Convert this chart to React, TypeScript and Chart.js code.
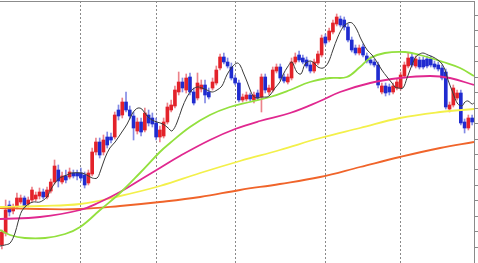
import React, { useEffect, useRef } from "react";
import { Chart, registerables } from "chart.js";

Chart.register(...registerables);

// Candles (bar index 0..125)
const opens = [100.18,100.30,100.58,100.52,100.56,100.61,100.65,100.59,100.63,100.64,100.67,100.71,100.66,100.72,100.81,100.93,100.81,100.87,100.86,100.90,100.90,100.90,100.88,100.80,100.89,101.11,101.21,101.11,101.26,101.26,101.26,101.53,101.48,101.61,101.53,101.47,101.32,101.41,101.33,101.48,101.45,101.40,101.26,101.27,101.41,101.53,101.57,101.71,101.81,101.73,101.86,101.71,101.65,101.74,101.78,101.71,101.75,101.80,101.95,102.06,102.01,101.96,101.85,101.80,101.63,101.64,101.68,101.63,101.70,101.66,101.86,101.71,101.73,101.92,101.96,101.86,101.81,101.85,102.01,102.08,102.05,102.03,101.98,101.92,102.00,102.08,102.26,102.23,102.31,102.39,102.44,102.43,102.36,102.23,102.15,102.10,102.16,102.07,102.03,102.01,101.98,101.71,101.77,101.76,101.71,101.75,101.75,101.87,101.97,102.06,101.97,102.03,102.03,102.04,102.04,101.99,101.98,101.95,101.91,101.54,101.58,101.65,101.70,101.41,101.35,101.45];
const highs = [100.33,100.63,100.62,100.59,100.70,100.68,100.67,100.66,100.76,100.71,100.75,100.74,100.76,100.84,101.03,100.98,100.91,100.93,100.95,100.93,100.93,100.95,100.91,100.93,101.15,101.25,101.25,101.28,101.31,101.30,101.51,101.58,101.65,101.71,101.57,101.51,101.45,101.45,101.55,101.53,101.50,101.45,101.37,101.45,101.60,101.63,101.77,101.91,101.85,101.89,101.90,101.75,101.90,101.83,101.83,101.75,101.85,101.97,102.09,102.10,102.05,102.00,101.88,101.83,101.69,101.71,101.70,101.71,101.73,101.89,101.89,101.78,101.96,101.99,101.99,101.89,101.89,102.05,102.10,102.12,102.08,102.06,102.01,102.04,102.12,102.28,102.29,102.35,102.43,102.49,102.47,102.46,102.39,102.26,102.18,102.18,102.19,102.10,102.06,102.04,102.01,101.80,101.80,101.79,101.80,101.84,101.91,102.01,102.10,102.10,102.07,102.06,102.06,102.07,102.07,102.02,102.01,101.98,101.94,101.61,101.78,101.73,101.73,101.44,101.48,101.48];
const lows = [100.14,100.27,100.47,100.49,100.54,100.59,100.54,100.56,100.61,100.62,100.64,100.64,100.64,100.70,100.79,100.76,100.79,100.80,100.84,100.85,100.83,100.82,100.75,100.78,100.87,101.08,101.05,101.08,101.15,101.20,101.24,101.43,101.45,101.51,101.44,101.23,101.29,101.27,101.31,101.37,101.36,101.23,101.21,101.25,101.39,101.51,101.55,101.68,101.71,101.70,101.68,101.58,101.63,101.71,101.60,101.64,101.73,101.78,101.93,101.99,101.95,101.83,101.78,101.61,101.61,101.62,101.62,101.60,101.63,101.51,101.70,101.68,101.71,101.90,101.83,101.80,101.79,101.83,101.99,102.01,101.99,101.95,101.90,101.90,101.98,102.06,102.18,102.21,102.29,102.37,102.36,102.33,102.21,102.11,102.08,102.08,102.06,102.00,101.98,101.96,101.75,101.69,101.67,101.68,101.69,101.73,101.73,101.85,101.95,101.96,101.95,101.94,101.94,101.95,101.96,101.94,101.92,101.83,101.54,101.51,101.56,101.63,101.38,101.30,101.33,101.38];
const closes = [100.31,100.53,100.51,100.56,100.65,100.65,100.56,100.63,100.73,100.68,100.71,100.66,100.73,100.81,100.97,100.82,100.87,100.83,100.91,100.87,100.87,100.85,100.78,100.90,101.11,101.21,101.08,101.23,101.18,101.23,101.48,101.47,101.61,101.53,101.47,101.35,101.41,101.31,101.50,101.40,101.39,101.26,101.33,101.41,101.56,101.58,101.73,101.81,101.75,101.85,101.71,101.60,101.80,101.78,101.68,101.66,101.81,101.93,102.06,102.01,101.97,101.85,101.80,101.63,101.66,101.68,101.64,101.68,101.65,101.86,101.73,101.75,101.93,101.96,101.85,101.82,101.86,102.01,102.06,102.03,102.01,101.97,101.92,102.01,102.09,102.25,102.20,102.32,102.40,102.46,102.38,102.36,102.23,102.13,102.10,102.15,102.08,102.02,102.00,101.98,101.78,101.77,101.70,101.71,101.77,101.81,101.88,101.98,102.05,101.98,102.04,101.96,101.96,101.97,101.98,101.96,101.94,101.85,101.56,101.58,101.75,101.70,101.40,101.35,101.45,101.41];

// Moving averages: [bar index, value]
const maBlack: [number, number][] = [[-0.5,100.17],[0.8,100.18],[2.2,100.20],[3.5,100.30],[4.3,100.41],[5.3,100.52],[6.7,100.58],[8.3,100.61],[10.1,100.61],[12.0,100.66],[12.8,100.72],[14.1,100.80],[15.4,100.85],[17.3,100.88],[18.6,100.90],[21.3,100.90],[22.6,100.88],[24.0,100.85],[25.3,100.85],[26.1,100.91],[27.4,101.05],[28.7,101.15],[30.1,101.21],[31.9,101.31],[33.3,101.39],[34.6,101.49],[35.4,101.53],[36.2,101.55],[37.2,101.54],[38.6,101.47],[39.9,101.43],[41.2,101.41],[42.8,101.39],[44.2,101.35],[45.2,101.32],[46.5,101.40],[47.9,101.55],[49.2,101.66],[50.5,101.73],[51.9,101.76],[53.2,101.75],[54.5,101.73],[55.9,101.71],[57.2,101.73],[58.5,101.77],[59.8,101.88],[61.2,101.96],[62.5,102.00],[63.3,101.98],[64.1,101.91],[65.2,101.81],[66.0,101.73],[66.8,101.67],[67.8,101.65],[69.1,101.66],[70.5,101.66],[71.3,101.68],[72.6,101.75],[73.9,101.81],[74.7,101.88],[76.1,101.97],[77.1,102.01],[78.4,101.91],[79.5,101.89],[80.6,101.99],[81.9,102.02],[83.0,102.00],[84.0,101.96],[85.4,101.95],[86.7,102.00],[88.0,102.13],[89.3,102.26],[90.7,102.36],[92.0,102.40],[93.1,102.40],[94.4,102.33],[95.2,102.26],[96.0,102.20],[97.1,102.13],[98.4,102.08],[99.7,102.01],[101.0,101.93],[102.4,101.86],[103.7,101.80],[104.5,101.76],[105.3,101.75],[106.6,101.75],[107.7,101.85],[108.5,101.93],[109.8,102.05],[110.6,102.08],[111.9,102.10],[113.3,102.08],[114.6,102.06],[115.9,102.03],[117.0,101.99],[117.8,101.93],[118.6,101.83],[119.6,101.73],[120.4,101.65],[121.2,101.59],[122.3,101.57],[123.1,101.61],[123.9,101.62],[125.0,101.59],[125.5,101.60]];
const maGreen: [number, number][] = [[-0.5,100.33],[2.2,100.28],[6.1,100.25],[11.5,100.25],[16.8,100.29],[20.8,100.36],[26.1,100.53],[31.4,100.70],[36.7,100.90],[42.0,101.11],[44.7,101.20],[50.0,101.36],[55.3,101.48],[60.6,101.56],[65.9,101.61],[71.3,101.66],[76.6,101.73],[81.9,101.81],[87.2,101.85],[91.7,101.86],[95.2,101.96],[97.9,102.05],[101.8,102.10],[107.2,102.11],[111.1,102.08],[117.3,102.01],[121.8,101.95],[125.5,101.87]];
const maMagenta: [number, number][] = [[-0.5,100.44],[10.1,100.46],[20.8,100.53],[26.1,100.61],[31.4,100.71],[36.7,100.83],[42.0,100.95],[47.3,101.07],[55.3,101.23],[62.0,101.34],[68.6,101.42],[76.6,101.50],[84.6,101.62],[89.9,101.71],[97.9,101.80],[105.8,101.85],[113.8,101.87],[119.1,101.85],[125.5,101.78]];
const maYellow: [number, number][] = [[-0.5,100.56],[10.1,100.57],[20.8,100.59],[31.4,100.67],[42.0,100.77],[52.7,100.90],[63.3,101.02],[73.9,101.13],[84.6,101.25],[95.2,101.35],[105.8,101.45],[116.5,101.51],[125.5,101.54]];
const maOrange: [number, number][] = [[-0.5,100.55],[10.1,100.54],[20.8,100.54],[31.4,100.57],[42.0,100.61],[52.7,100.66],[63.3,100.73],[73.9,100.79],[84.6,100.86],[95.2,100.96],[105.8,101.06],[116.5,101.15],[125.5,101.21]];

// Vertical separators (bar index) and right-axis tick positions
const separatorBars = [21, 41, 62, 86, 106];
const priceTicks = [102.48,102.325,102.17,102.015,101.86,101.705,101.55,101.395,101.24,101.085,100.93,100.775,100.62,100.465,100.31,100.155];

const BULL = "#e3222a";
const BEAR = "#1f2bd0";
const BULL_WICK = "rgba(230,90,100,0.75)";
const BEAR_WICK = "rgba(90,100,220,0.75)";

export default function App() {
  const ref = useRef<HTMLCanvasElement | null>(null);

  useEffect(() => {
    document.body.style.margin = "0";
    const canvas = ref.current;
    if (!canvas) return;

    const bull = closes.map((c, i) => c >= opens[i]);
    const bodies = opens.map((o, i) => ({ x: i, y: [o, closes[i]] }));
    const wicks = lows.map((l, i) => ({ x: i, y: [l, highs[i]] }));
    const toXY = (arr: [number, number][]) => arr.map(([x, y]) => ({ x, y }));

    const line = (data: [number, number][], color: string, width: number, tension: number) => ({
      type: "line" as const,
      data: toXY(data),
      borderColor: color,
      borderWidth: width,
      pointRadius: 0,
      tension,
      fill: false,
      order: 0,
    });

    const topBorder = {
      id: "topBorder",
      afterDraw(chart: any) {
        const { ctx, chartArea } = chart;
        ctx.save();
        ctx.strokeStyle = "#8c8c8c";
        ctx.lineWidth = 1;
        ctx.beginPath();
        ctx.moveTo(chartArea.left, chartArea.top + 0.5);
        ctx.lineTo(chartArea.right, chartArea.top + 0.5);
        ctx.stroke();
        ctx.restore();
      },
    };

    const chart = new Chart(canvas, {
      type: "bar",
      data: {
        datasets: [
          line(maBlack, "#3a3a3a", 1, 0.35),
          line(maGreen, "#93e03e", 1.8, 0.4),
          line(maMagenta, "#e0288f", 1.8, 0.4),
          line(maYellow, "#f3f04a", 1.8, 0.4),
          line(maOrange, "#f0642a", 1.8, 0.4),
          {
            type: "bar",
            data: bodies as any,
            backgroundColor: bull.map((b) => (b ? BULL : BEAR)),
            borderWidth: 0,
            barThickness: 3,
            grouped: false,
            order: 1,
          },
          {
            type: "bar",
            data: wicks as any,
            backgroundColor: bull.map((b) => (b ? BULL_WICK : BEAR_WICK)),
            borderWidth: 0,
            barThickness: 1,
            grouped: false,
            order: 2,
          },
        ] as any,
      },
      options: {
        responsive: false,
        animation: false,
        events: [],
        layout: { padding: { top: 1, left: 0, right: 0, bottom: 0 } },
        plugins: { legend: { display: false }, tooltip: { enabled: false } },
        scales: {
          x: {
            type: "linear",
            offset: false,
            min: -0.5,
            max: 125.5,
            afterBuildTicks: (scale: any) => {
              scale.ticks = separatorBars.map((v) => ({ value: v }));
            },
            ticks: { display: false },
            grid: { color: "#8a8a8a", drawTicks: false, lineWidth: 1, offset: false },
            border: { display: false, dash: [2, 2] },
          },
          y: {
            type: "linear",
            position: "right",
            min: 100.0,
            max: 102.62,
            afterBuildTicks: (scale: any) => {
              scale.ticks = priceTicks.map((v) => ({ value: v }));
            },
            ticks: { display: false },
            grid: { drawOnChartArea: false, drawTicks: true, tickLength: 4, color: "#8a8a8a" },
            border: { display: true, color: "#8a8a8a", width: 1 },
          },
        },
      } as any,
      plugins: [topBorder],
    });

    return () => chart.destroy();
  }, []);

  return (
    <div style={{ width: 478, height: 263, position: "relative", background: "#fff" }}>
      <canvas ref={ref} width={478} height={263} style={{ display: "block" }} />
    </div>
  );
}
